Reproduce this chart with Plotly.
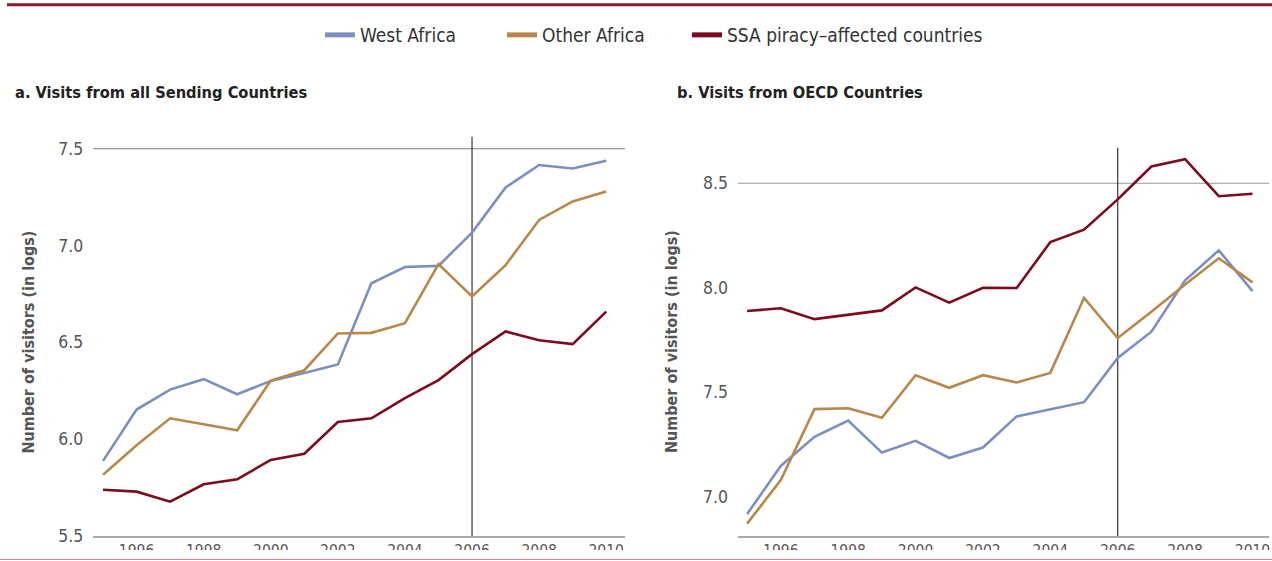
import plotly.graph_objects as go

years = list(range(1995, 2011))

# Panel a: visits from all sending countries (log visitors)
west_all = [5.888, 6.153, 6.256, 6.310, 6.232, 6.301, 6.342, 6.386,
            6.805, 6.889, 6.895, 7.067, 7.300, 7.416, 7.398, 7.438]
other_all = [5.816, 5.969, 6.108, 6.077, 6.046, 6.303, 6.356, 6.546,
             6.549, 6.599, 6.904, 6.737, 6.899, 7.132, 7.228, 7.279]
ssa_all = [5.739, 5.729, 5.677, 5.767, 5.793, 5.893, 5.925, 6.089,
           6.108, 6.212, 6.305, 6.439, 6.556, 6.511, 6.491, 6.659]

# Panel b: visits from OECD countries (log visitors)
west_oecd = [6.918, 7.148, 7.287, 7.365, 7.212, 7.268, 7.186, 7.236,
             7.385, 7.418, 7.453, 7.665, 7.790, 8.036, 8.179, 7.984]
other_oecd = [6.872, 7.080, 7.420, 7.424, 7.378, 7.582, 7.522, 7.582,
              7.547, 7.593, 7.952, 7.760, 7.885, 8.016, 8.141, 8.026]
ssa_oecd = [7.889, 7.902, 7.850, 7.870, 7.892, 8.002, 7.929, 8.000,
            7.999, 8.219, 8.278, 8.423, 8.580, 8.615, 8.438, 8.450]

series_names = ["West Africa", "Other Africa", "SSA piracy\u2013affected countries"]
colors = ["#7b8fc0", "#b9874a", "#7d0a1f"]

x_ticks = [1996, 1998, 2000, 2002, 2004, 2006, 2008, 2010]
y_ticks_a = [5.5, 6.0, 6.5, 7.0, 7.5]
y_ticks_b = [7.0, 7.5, 8.0, 8.5]
event_year = 2006

FONT = "DejaVu Sans Condensed, Liberation Sans Narrow, Liberation Sans, Arial, sans-serif"
W, H = 1272, 561

def px_x(p):
    return p / W

def px_y(p):
    return 1 - p / H

fig = go.Figure()

for vals, name, col in zip([west_all, other_all, ssa_all], series_names, colors):
    fig.add_trace(go.Scatter(x=years, y=vals, mode="lines", name=name,
                             line=dict(color=col, width=2.6),
                             xaxis="x", yaxis="y", showlegend=False))
for vals, name, col in zip([west_oecd, other_oecd, ssa_oecd], series_names, colors):
    fig.add_trace(go.Scatter(x=years, y=vals, mode="lines", name=name,
                             line=dict(color=col, width=2.6),
                             xaxis="x2", yaxis="y2", showlegend=False))
# legend entries, one legend per entry so each can be placed like the reference
legend_ids = ["legend", "legend2", "legend3"]
legend_x = [320, 502, 687]
for name, col, lid in zip(series_names, colors, legend_ids):
    fig.add_trace(go.Scatter(x=[None], y=[None], mode="lines", name=name,
                             line=dict(color=col, width=5), legend=lid,
                             xaxis="x", yaxis="y", showlegend=True))

x_common = dict(showgrid=False, zeroline=False, ticks="", ticklabelstandoff=0,
                automargin=False,
                tickfont=dict(family=FONT, size=15.5, color="#555555"))
y_common = dict(showgrid=False, zeroline=False, ticks="", ticklabelstandoff=9,
                automargin=False,
                tickfont=dict(family=FONT, size=17.5, color="#555555"))

legend_style = dict(orientation="h", xanchor="left", yanchor="middle", y=px_y(35),
                    font=dict(family=FONT, size=19, color="#333333"),
                    bgcolor="rgba(0,0,0,0)", itemwidth=30)

fig.update_layout(
    width=W, height=H,
    margin=dict(l=0, r=0, t=0, b=0, autoexpand=False),
    paper_bgcolor="white", plot_bgcolor="white",
    font=dict(family=FONT, color="#333333"),
    xaxis=dict(domain=[px_x(93.3), px_x(625)], range=[1994.71, 2010.56],
               tickvals=x_ticks, showline=True, linecolor="#aaaaaa", linewidth=1.5,
               anchor="y", **x_common),
    yaxis=dict(domain=[px_y(536), px_y(136.7)], range=[5.5, 7.562],
               tickvals=y_ticks_a, tickformat=".1f", showline=False,
               anchor="x", **y_common),
    xaxis2=dict(domain=[px_x(738), px_x(1269)], range=[1994.73, 2010.49],
                tickvals=x_ticks, showline=True, linecolor="#aaaaaa", linewidth=1.5,
                anchor="y2", **x_common),
    yaxis2=dict(domain=[px_y(536), px_y(147.7)], range=[6.813, 8.670],
                tickvals=y_ticks_b, tickformat=".1f", showline=False,
                anchor="x2", **y_common),
    legend=dict(x=px_x(legend_x[0]), **legend_style),
    legend2=dict(x=px_x(legend_x[1]), **legend_style),
    legend3=dict(x=px_x(legend_x[2]), **legend_style),
    showlegend=True,
)

shapes = [
    # reference horizontal lines
    dict(type="line", xref="x domain", yref="y", x0=0, x1=1, y0=7.5, y1=7.5,
         line=dict(color="#999999", width=1.2), layer="below"),
    dict(type="line", xref="x2 domain", yref="y2", x0=0, x1=1, y0=8.5, y1=8.5,
         line=dict(color="#999999", width=1.2), layer="below"),
    # event year vertical lines
    dict(type="line", xref="x", yref="y domain", x0=event_year, x1=event_year, y0=0, y1=1,
         line=dict(color="#333333", width=1.2), layer="below"),
    dict(type="line", xref="x2", yref="y2 domain", x0=event_year, x1=event_year, y0=0, y1=1,
         line=dict(color="#333333", width=1.2), layer="below"),
    # top rule
    dict(type="line", xref="paper", yref="paper", x0=px_x(7), x1=1, y0=px_y(4.7), y1=px_y(4.7),
         line=dict(color="#8a1a2e", width=3)),
    # bottom crop mask and rule
    dict(type="rect", xref="paper", yref="paper", x0=0, x1=1, y0=0, y1=px_y(550),
         fillcolor="white", line=dict(width=0, color="white"), layer="above"),
    dict(type="line", xref="paper", yref="paper", x0=0, x1=1, y0=px_y(559.5), y1=px_y(559.5),
         line=dict(color="#d08a96", width=1), layer="above"),
]
fig.update_layout(shapes=shapes)

annotations = [
    dict(text="<b>a. Visits from all Sending Countries</b>", xref="paper", yref="paper",
         x=px_x(13), y=px_y(92), xanchor="left", yanchor="middle", showarrow=False,
         font=dict(family=FONT, size=16.3, color="#222222")),
    dict(text="<b>b. Visits from OECD Countries</b>", xref="paper", yref="paper",
         x=px_x(675), y=px_y(92), xanchor="left", yanchor="middle", showarrow=False,
         font=dict(family=FONT, size=16.3, color="#222222")),
    dict(text="<b>Number of visitors (in logs)</b>", xref="paper", yref="paper",
         x=px_x(27.5), y=px_y(342), xanchor="center", yanchor="middle", textangle=-90,
         showarrow=False, font=dict(family=FONT, size=16, color="#555555")),
    dict(text="<b>Number of visitors (in logs)</b>", xref="paper", yref="paper",
         x=px_x(671), y=px_y(342), xanchor="center", yanchor="middle", textangle=-90,
         showarrow=False, font=dict(family=FONT, size=16, color="#555555")),
]
fig.update_layout(annotations=annotations)

post = ("document.body.style.margin='0px';"
        "document.body.style.overflow='hidden';"
        "var d=document.getElementById('{plot_id}');"
        "d.style.position='fixed';d.style.top='0px';d.style.left='0px';")
fig.write_html("out.html", config={"displayModeBar": False}, post_script=post)
